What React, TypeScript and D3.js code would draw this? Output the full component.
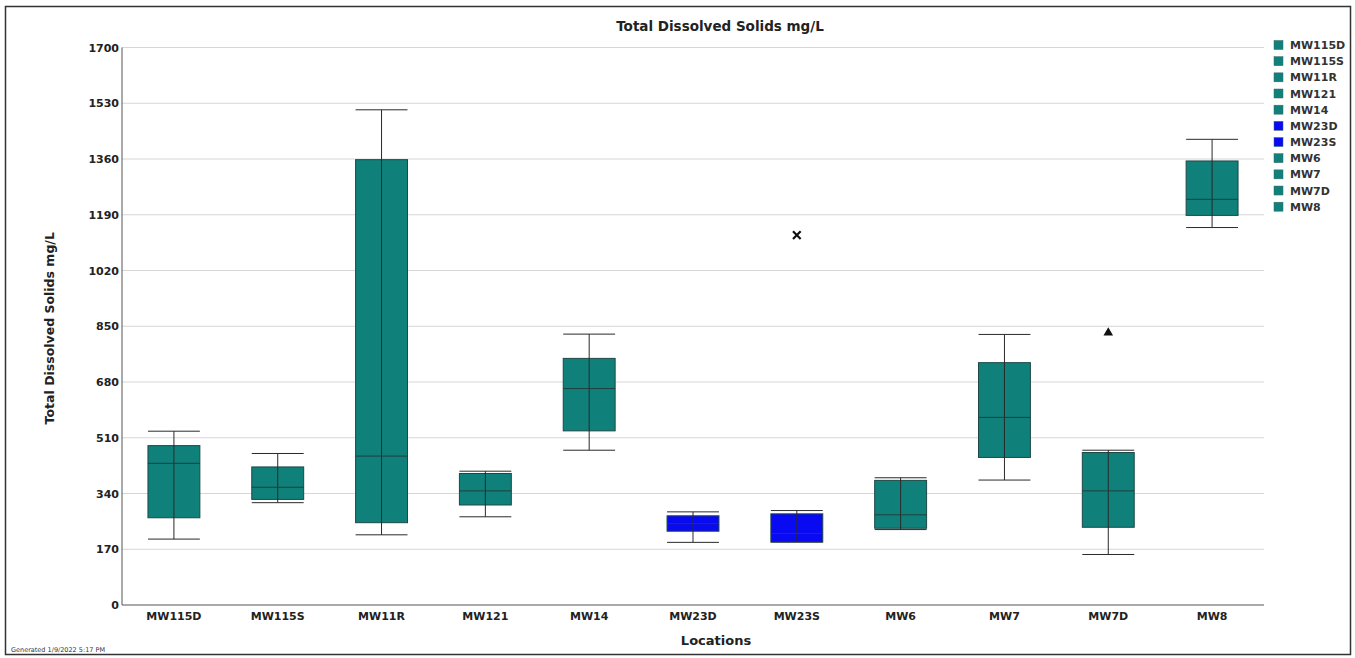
import React from "react";
import * as d3 from "d3";

const categories = ["MW115D", "MW115S", "MW11R", "MW121", "MW14", "MW23D", "MW23S", "MW6", "MW7", "MW7D", "MW8"];
const whiskerHigh = [530, 462, 1510, 408, 826, 284, 288, 388, 825, 472, 1420];
const q3Values = [486, 421, 1358, 401, 752, 272, 278, 380, 739, 465, 1354];
const medianValues = [432, 359, 454, 348, 660, 248, 218, 275, 572, 348, 1237];
const q1Values = [266, 322, 251, 305, 531, 225, 192, 234, 450, 237, 1188];
const whiskerLow = [201, 312, 214, 269, 472, 191, 192, 230, 381, 154, 1151];
const seriesColors = ["teal", "teal", "teal", "teal", "teal", "blue", "blue", "teal", "teal", "teal", "teal"];
const outlierCats = ["MW23S", "MW7D"];
const outlierValues = [1128, 830];
const outlierShapes = ["cross", "triangle"];
const yTicks = [0, 170, 340, 510, 680, 850, 1020, 1190, 1360, 1530, 1700];

const COLORS: Record<string, string> = { teal: "#10807a", blue: "#0a0af2" };
const FONT = "'DejaVu Sans', Verdana, sans-serif";

export default function App() {
  const W = 1355, H = 658;
  const left = 122, right = 1264, top = 47.5, bottom = 605;
  const x = d3.scaleBand<string>().domain(categories).range([left, right]).padding(0);
  const y = d3.scaleLinear().domain([0, 1700]).range([bottom, top]);
  const bw = x.bandwidth() * 0.5;

  const tri = d3.symbol().type(d3.symbolTriangle).size(40)();
  const cross = d3.symbol().type(d3.symbolX).size(40)();

  return (
    <svg width={W} height={H} style={{ position: "absolute", left: 0, top: 0, background: "#fff" }} fontFamily={FONT}>
      <rect x={0} y={0} width={W} height={H} fill="#fff" />
      <rect x={5.5} y={6.5} width={1345} height={648} fill="none" stroke="#333" strokeWidth={1.5} />
      <text x={720} y={31} textAnchor="middle" fontSize={13.5} fontWeight="bold" fill="#222">Total Dissolved Solids mg/L</text>

      {yTicks.map((t) => (
        <g key={t}>
          {t > 0 && <line x1={left} x2={right} y1={y(t)} y2={y(t)} stroke="#d6d6d6" strokeWidth={1} />}
          <text x={left - 3} y={y(t) + 4} textAnchor="end" fontSize={11} fontWeight="bold" fill="#222">{t}</text>
        </g>
      ))}
      <line x1={left} x2={left} y1={top} y2={bottom} stroke="#555" strokeWidth={1} />
      <line x1={left} x2={right} y1={bottom} y2={bottom} stroke="#555" strokeWidth={1} />

      {categories.map((c, i) => {
        const cx = (x(c) as number) + x.bandwidth() / 2;
        const fill = COLORS[seriesColors[i]];
        return (
          <g key={c}>
            <rect x={cx - bw / 2} y={y(q3Values[i])} width={bw} height={y(q1Values[i]) - y(q3Values[i])} fill={fill} stroke="#1d4846" strokeWidth={1} />
            <line x1={cx} x2={cx} y1={y(whiskerHigh[i])} y2={y(whiskerLow[i])} stroke="#2a2a2a" strokeWidth={1} />
            <line x1={cx - bw / 2} x2={cx + bw / 2} y1={y(whiskerHigh[i])} y2={y(whiskerHigh[i])} stroke="#2a2a2a" strokeWidth={1} />
            <line x1={cx - bw / 2} x2={cx + bw / 2} y1={y(whiskerLow[i])} y2={y(whiskerLow[i])} stroke="#2a2a2a" strokeWidth={1} />
            <line x1={cx - bw / 2} x2={cx + bw / 2} y1={y(medianValues[i])} y2={y(medianValues[i])} stroke="#1f3f3d" strokeWidth={1} />
            <text x={cx} y={bottom + 15} textAnchor="middle" fontSize={11} fontWeight="bold" fill="#222">{c}</text>
          </g>
        );
      })}

      {outlierCats.map((c, i) => {
        const cx = (x(c) as number) + x.bandwidth() / 2;
        const isCross = outlierShapes[i] === "cross";
        return (
          <path key={c} d={isCross ? (cross as string) : (tri as string)} transform={`translate(${cx},${y(outlierValues[i])})`} fill="#111" stroke={isCross ? "#111" : "none"} strokeWidth={isCross ? 2.2 : 0} />
        );
      })}

      <text transform={`translate(54,${(top + bottom) / 2 + 2}) rotate(-90)`} textAnchor="middle" fontSize={12.5} fontWeight="bold" fill="#222">Total Dissolved Solids mg/L</text>
      <text x={716} y={645} textAnchor="middle" fontSize={13} fontWeight="bold" fill="#222">Locations</text>

      {categories.map((c, i) => (
        <g key={"lg" + c}>
          <rect x={1274} y={45 + i * 16.17 - 4.5} width={9} height={9} fill={COLORS[seriesColors[i]]} stroke="#3a6a68" strokeWidth={0.5} />
          <text x={1290} y={45 + i * 16.17 + 4} fontSize={11} fontWeight="bold" fill="#333">{c}</text>
        </g>
      ))}

      <text x={11} y={652} fontSize={6.5} fill="#333">Generated 1/9/2022 5:17 PM</text>
    </svg>
  );
}
